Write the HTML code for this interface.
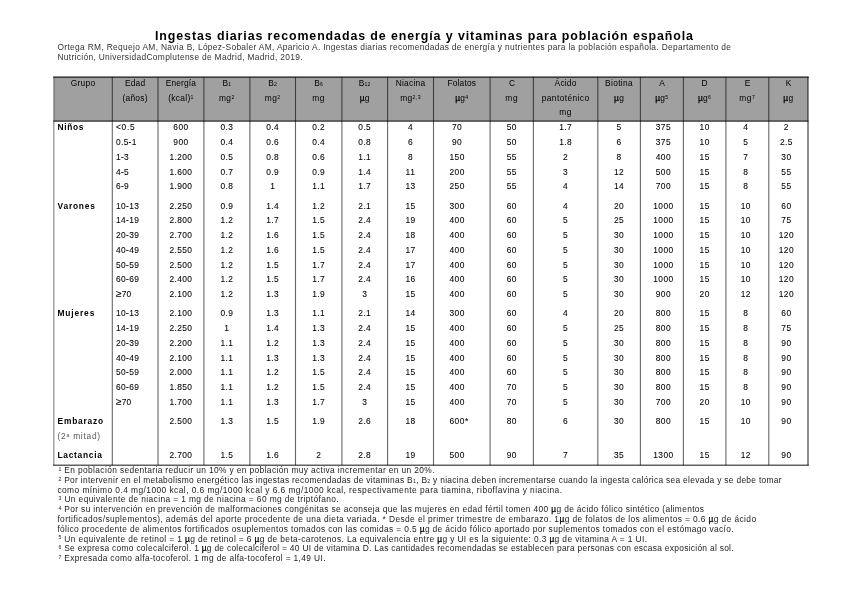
<!DOCTYPE html>
<html><head><meta charset="utf-8"><style>
html,body{margin:0;padding:0;background:#fff;}
body{width:848px;height:599px;overflow:hidden;position:relative;font-family:"Liberation Sans", sans-serif;}
.t{position:absolute;white-space:nowrap;line-height:12px;height:12px;}
.sk{-webkit-text-stroke:0.08px currentColor;}
#wrap{position:absolute;left:0;top:0;width:848px;height:599px;will-change:transform;}
sup{font-size:62%;vertical-align:0;position:relative;top:-0.45em;line-height:0;}
sub{font-size:62%;vertical-align:0;position:relative;top:0.05em;line-height:0;}
.ln{position:absolute;background:#555;}
.hd{position:absolute;background:#a0a0a0;}
.mu{color:#000;-webkit-text-stroke:0.25px #000;}
.ge{font-size:120%;line-height:0;}
</style></head>
<body>
<div class="hd" style="left:53.8px;top:77.1px;width:754.2px;height:44.10000000000001px"></div>
<svg width="848" height="599" style="position:absolute;left:0;top:0"><line x1="53.099999999999994" y1="77.1" x2="808.8" y2="77.1" stroke="#000" stroke-opacity="0.62" stroke-width="1.6"/><line x1="53.3" y1="121.2" x2="808.5" y2="121.2" stroke="#000" stroke-opacity="0.8" stroke-width="1.3"/><line x1="53.099999999999994" y1="465.2" x2="808.8" y2="465.2" stroke="#000" stroke-opacity="0.62" stroke-width="1.6"/><line x1="53.8" y1="77.1" x2="53.8" y2="465.2" stroke="#000" stroke-opacity="0.42" stroke-width="1.3"/><line x1="112.3" y1="77.1" x2="112.3" y2="465.2" stroke="#000" stroke-opacity="0.6" stroke-width="1.1"/><line x1="158.0" y1="77.1" x2="158.0" y2="465.2" stroke="#000" stroke-opacity="0.6" stroke-width="1.1"/><line x1="203.9" y1="77.1" x2="203.9" y2="465.2" stroke="#000" stroke-opacity="0.6" stroke-width="1.1"/><line x1="249.9" y1="77.1" x2="249.9" y2="465.2" stroke="#000" stroke-opacity="0.6" stroke-width="1.1"/><line x1="295.5" y1="77.1" x2="295.5" y2="465.2" stroke="#000" stroke-opacity="0.6" stroke-width="1.1"/><line x1="341.9" y1="77.1" x2="341.9" y2="465.2" stroke="#000" stroke-opacity="0.6" stroke-width="1.1"/><line x1="387.6" y1="77.1" x2="387.6" y2="465.2" stroke="#000" stroke-opacity="0.6" stroke-width="1.1"/><line x1="433.5" y1="77.1" x2="433.5" y2="465.2" stroke="#000" stroke-opacity="0.6" stroke-width="1.1"/><line x1="490.1" y1="77.1" x2="490.1" y2="465.2" stroke="#000" stroke-opacity="0.6" stroke-width="1.1"/><line x1="533.4" y1="77.1" x2="533.4" y2="465.2" stroke="#000" stroke-opacity="0.6" stroke-width="1.1"/><line x1="597.8" y1="77.1" x2="597.8" y2="465.2" stroke="#000" stroke-opacity="0.6" stroke-width="1.1"/><line x1="640.4" y1="77.1" x2="640.4" y2="465.2" stroke="#000" stroke-opacity="0.6" stroke-width="1.1"/><line x1="683.4" y1="77.1" x2="683.4" y2="465.2" stroke="#000" stroke-opacity="0.6" stroke-width="1.1"/><line x1="725.9" y1="77.1" x2="725.9" y2="465.2" stroke="#000" stroke-opacity="0.6" stroke-width="1.1"/><line x1="768.8" y1="77.1" x2="768.8" y2="465.2" stroke="#000" stroke-opacity="0.6" stroke-width="1.1"/><line x1="808.0" y1="77.1" x2="808.0" y2="465.2" stroke="#000" stroke-opacity="0.6" stroke-width="1.5"/></svg>
<div id="wrap">
<div class="t " id="i0" style="left:155.00px;top:30.40px;font-size:12.4px;color:#000;font-weight:bold;letter-spacing:0.911px;">Ingestas diarias recomendadas de energía y vitaminas para población española</div>
<div class="t " id="i1" style="left:57.50px;top:41.29px;font-size:8.4px;color:#333;letter-spacing:0.329px;">Ortega RM, Requejo AM, Navia B, López-Sobaler AM, Aparicio A. Ingestas diarias recomendadas de energía y nutrientes para la población española. Departamento de</div>
<div class="t " id="i2" style="left:57.50px;top:51.09px;font-size:8.4px;color:#333;letter-spacing:0.321px;">Nutrición, UniversidadComplutense de Madrid, Madrid, 2019.</div>
<div class="t " id="i3" style="left:53.80px;top:76.59px;font-size:8.4px;color:#000;width:58.50px;text-align:center;letter-spacing:0.250px;">Grupo</div>
<div class="t " id="i4" style="left:112.30px;top:76.59px;font-size:8.4px;color:#000;width:45.70px;text-align:center;letter-spacing:0.141px;">Edad</div>
<div class="t " id="i5" style="left:112.30px;top:92.19px;font-size:8.4px;color:#000;width:45.70px;text-align:center;letter-spacing:0.255px;">(años)</div>
<div class="t " id="i6" style="left:158.00px;top:76.59px;font-size:8.4px;color:#000;width:45.90px;text-align:center;letter-spacing:0.152px;">Energía</div>
<div class="t " id="i7" style="left:158.00px;top:92.19px;font-size:8.4px;color:#000;width:45.90px;text-align:center;letter-spacing:0.312px;">(kcal)<sup>1</sup></div>
<div class="t " id="i8" style="left:203.90px;top:76.59px;font-size:8.4px;color:#000;width:46.00px;text-align:center;letter-spacing:0.086px;">B<sub>1</sub></div>
<div class="t " id="i9" style="left:203.90px;top:92.19px;font-size:8.4px;color:#000;width:46.00px;text-align:center;letter-spacing:0.500px;">mg<sup>2</sup></div>
<div class="t " id="i10" style="left:249.90px;top:76.59px;font-size:8.4px;color:#000;width:45.60px;text-align:center;letter-spacing:0.086px;">B<sub>2</sub></div>
<div class="t " id="i11" style="left:249.90px;top:92.19px;font-size:8.4px;color:#000;width:45.60px;text-align:center;letter-spacing:0.500px;">mg<sup>2</sup></div>
<div class="t " id="i12" style="left:295.50px;top:76.59px;font-size:8.4px;color:#000;width:46.40px;text-align:center;letter-spacing:0.086px;">B<sub>6</sub></div>
<div class="t " id="i13" style="left:295.50px;top:92.19px;font-size:8.4px;color:#000;width:46.40px;text-align:center;letter-spacing:0.617px;">mg</div>
<div class="t " id="i14" style="left:341.90px;top:76.59px;font-size:8.4px;color:#000;width:45.70px;text-align:center;letter-spacing:0.146px;">B<sub>12</sub></div>
<div class="t " id="i15" style="left:341.90px;top:92.19px;font-size:8.4px;color:#000;width:45.70px;text-align:center;letter-spacing:0.336px;"><span class="mu">µ</span>g</div>
<div class="t " id="i16" style="left:387.60px;top:76.59px;font-size:8.4px;color:#000;width:45.90px;text-align:center;letter-spacing:0.252px;">Niacina</div>
<div class="t " id="i17" style="left:387.60px;top:92.19px;font-size:8.4px;color:#000;width:45.90px;text-align:center;letter-spacing:0.381px;">mg<sup>2,3</sup></div>
<div class="t " id="i18" style="left:433.50px;top:76.59px;font-size:8.4px;color:#000;width:56.60px;text-align:center;letter-spacing:0.154px;">Folatos</div>
<div class="t " id="i19" style="left:433.50px;top:92.19px;font-size:8.4px;color:#000;width:56.60px;text-align:center;letter-spacing:0.312px;"><span class="mu">µ</span>g<sup>4</sup></div>
<div class="t " id="i20" style="left:490.10px;top:76.59px;font-size:8.4px;color:#000;width:43.30px;text-align:center;letter-spacing:-0.469px;">C</div>
<div class="t " id="i21" style="left:490.10px;top:92.19px;font-size:8.4px;color:#000;width:43.30px;text-align:center;letter-spacing:0.617px;">mg</div>
<div class="t " id="i22" style="left:533.40px;top:76.59px;font-size:8.4px;color:#000;width:64.40px;text-align:center;letter-spacing:0.197px;">Ácido</div>
<div class="t " id="i23" style="left:533.40px;top:92.19px;font-size:8.4px;color:#000;width:64.40px;text-align:center;letter-spacing:0.402px;">pantoténico</div>
<div class="t " id="i24" style="left:533.40px;top:106.09px;font-size:8.4px;color:#000;width:64.40px;text-align:center;letter-spacing:0.617px;">mg</div>
<div class="t " id="i25" style="left:597.80px;top:76.59px;font-size:8.4px;color:#000;width:42.60px;text-align:center;letter-spacing:0.333px;">Biotina</div>
<div class="t " id="i26" style="left:597.80px;top:92.19px;font-size:8.4px;color:#000;width:42.60px;text-align:center;letter-spacing:0.336px;"><span class="mu">µ</span>g</div>
<div class="t " id="i27" style="left:640.40px;top:76.59px;font-size:8.4px;color:#000;width:43.00px;text-align:center;letter-spacing:-0.109px;">A</div>
<div class="t " id="i28" style="left:640.40px;top:92.19px;font-size:8.4px;color:#000;width:43.00px;text-align:center;letter-spacing:0.312px;"><span class="mu">µ</span>g<sup>5</sup></div>
<div class="t " id="i29" style="left:683.40px;top:76.59px;font-size:8.4px;color:#000;width:42.50px;text-align:center;letter-spacing:0.109px;">D</div>
<div class="t " id="i30" style="left:683.40px;top:92.19px;font-size:8.4px;color:#000;width:42.50px;text-align:center;letter-spacing:0.312px;"><span class="mu">µ</span>g<sup>6</sup></div>
<div class="t " id="i31" style="left:725.90px;top:76.59px;font-size:8.4px;color:#000;width:42.90px;text-align:center;letter-spacing:-0.531px;">E</div>
<div class="t " id="i32" style="left:725.90px;top:92.19px;font-size:8.4px;color:#000;width:42.90px;text-align:center;letter-spacing:0.500px;">mg<sup>7</sup></div>
<div class="t " id="i33" style="left:768.80px;top:76.59px;font-size:8.4px;color:#000;width:39.20px;text-align:center;letter-spacing:-0.344px;">K</div>
<div class="t " id="i34" style="left:768.80px;top:92.19px;font-size:8.4px;color:#000;width:39.20px;text-align:center;letter-spacing:0.336px;"><span class="mu">µ</span>g</div>
<div class="t " id="i35" style="left:57.50px;top:121.39px;font-size:8.4px;color:#000;font-weight:bold;letter-spacing:0.666px;">Niños</div>
<div class="t sk" id="i36" style="left:116.00px;top:121.39px;font-size:8.4px;color:#000;letter-spacing:0.723px;">&lt;0.5</div>
<div class="t sk" id="i37" style="left:158.00px;top:121.39px;font-size:8.4px;color:#000;width:45.90px;text-align:center;letter-spacing:0.432px;">600</div>
<div class="t sk" id="i38" style="left:203.90px;top:121.39px;font-size:8.4px;color:#000;width:46.00px;text-align:center;letter-spacing:0.359px;">0.3</div>
<div class="t sk" id="i39" style="left:249.90px;top:121.39px;font-size:8.4px;color:#000;width:45.60px;text-align:center;letter-spacing:0.359px;">0.4</div>
<div class="t sk" id="i40" style="left:295.50px;top:121.39px;font-size:8.4px;color:#000;width:46.40px;text-align:center;letter-spacing:0.359px;">0.2</div>
<div class="t sk" id="i41" style="left:341.90px;top:121.39px;font-size:8.4px;color:#000;width:45.70px;text-align:center;letter-spacing:0.359px;">0.5</div>
<div class="t sk" id="i42" style="left:387.60px;top:121.39px;font-size:8.4px;color:#000;width:45.90px;text-align:center;letter-spacing:0.422px;">4</div>
<div class="t sk" id="i43" style="left:428.80px;top:121.39px;font-size:8.4px;color:#000;width:56.60px;text-align:center;letter-spacing:0.430px;">70</div>
<div class="t sk" id="i44" style="left:490.10px;top:121.39px;font-size:8.4px;color:#000;width:43.30px;text-align:center;letter-spacing:0.430px;">50</div>
<div class="t sk" id="i45" style="left:533.40px;top:121.39px;font-size:8.4px;color:#000;width:64.40px;text-align:center;letter-spacing:0.359px;">1.7</div>
<div class="t sk" id="i46" style="left:597.80px;top:121.39px;font-size:8.4px;color:#000;width:42.60px;text-align:center;letter-spacing:0.422px;">5</div>
<div class="t sk" id="i47" style="left:641.90px;top:121.39px;font-size:8.4px;color:#000;width:43.00px;text-align:center;letter-spacing:0.432px;">375</div>
<div class="t sk" id="i48" style="left:683.40px;top:121.39px;font-size:8.4px;color:#000;width:42.50px;text-align:center;letter-spacing:0.430px;">10</div>
<div class="t sk" id="i49" style="left:724.40px;top:121.39px;font-size:8.4px;color:#000;width:42.90px;text-align:center;letter-spacing:0.422px;">4</div>
<div class="t sk" id="i50" style="left:766.80px;top:121.39px;font-size:8.4px;color:#000;width:39.20px;text-align:center;letter-spacing:0.422px;">2</div>
<div class="t sk" id="i51" style="left:116.00px;top:136.12px;font-size:8.4px;color:#000;letter-spacing:0.322px;">0.5-1</div>
<div class="t sk" id="i52" style="left:158.00px;top:136.12px;font-size:8.4px;color:#000;width:45.90px;text-align:center;letter-spacing:0.432px;">900</div>
<div class="t sk" id="i53" style="left:203.90px;top:136.12px;font-size:8.4px;color:#000;width:46.00px;text-align:center;letter-spacing:0.359px;">0.4</div>
<div class="t sk" id="i54" style="left:249.90px;top:136.12px;font-size:8.4px;color:#000;width:45.60px;text-align:center;letter-spacing:0.359px;">0.6</div>
<div class="t sk" id="i55" style="left:295.50px;top:136.12px;font-size:8.4px;color:#000;width:46.40px;text-align:center;letter-spacing:0.359px;">0.4</div>
<div class="t sk" id="i56" style="left:341.90px;top:136.12px;font-size:8.4px;color:#000;width:45.70px;text-align:center;letter-spacing:0.359px;">0.8</div>
<div class="t sk" id="i57" style="left:387.60px;top:136.12px;font-size:8.4px;color:#000;width:45.90px;text-align:center;letter-spacing:0.422px;">6</div>
<div class="t sk" id="i58" style="left:428.80px;top:136.12px;font-size:8.4px;color:#000;width:56.60px;text-align:center;letter-spacing:0.430px;">90</div>
<div class="t sk" id="i59" style="left:490.10px;top:136.12px;font-size:8.4px;color:#000;width:43.30px;text-align:center;letter-spacing:0.430px;">50</div>
<div class="t sk" id="i60" style="left:533.40px;top:136.12px;font-size:8.4px;color:#000;width:64.40px;text-align:center;letter-spacing:0.359px;">1.8</div>
<div class="t sk" id="i61" style="left:597.80px;top:136.12px;font-size:8.4px;color:#000;width:42.60px;text-align:center;letter-spacing:0.422px;">6</div>
<div class="t sk" id="i62" style="left:641.90px;top:136.12px;font-size:8.4px;color:#000;width:43.00px;text-align:center;letter-spacing:0.432px;">375</div>
<div class="t sk" id="i63" style="left:683.40px;top:136.12px;font-size:8.4px;color:#000;width:42.50px;text-align:center;letter-spacing:0.430px;">10</div>
<div class="t sk" id="i64" style="left:724.40px;top:136.12px;font-size:8.4px;color:#000;width:42.90px;text-align:center;letter-spacing:0.422px;">5</div>
<div class="t sk" id="i65" style="left:766.80px;top:136.12px;font-size:8.4px;color:#000;width:39.20px;text-align:center;letter-spacing:0.359px;">2.5</div>
<div class="t sk" id="i66" style="left:116.00px;top:150.85px;font-size:8.4px;color:#000;letter-spacing:0.323px;">1-3</div>
<div class="t sk" id="i67" style="left:158.00px;top:150.85px;font-size:8.4px;color:#000;width:45.90px;text-align:center;letter-spacing:0.388px;">1.200</div>
<div class="t sk" id="i68" style="left:203.90px;top:150.85px;font-size:8.4px;color:#000;width:46.00px;text-align:center;letter-spacing:0.359px;">0.5</div>
<div class="t sk" id="i69" style="left:249.90px;top:150.85px;font-size:8.4px;color:#000;width:45.60px;text-align:center;letter-spacing:0.359px;">0.8</div>
<div class="t sk" id="i70" style="left:295.50px;top:150.85px;font-size:8.4px;color:#000;width:46.40px;text-align:center;letter-spacing:0.359px;">0.6</div>
<div class="t sk" id="i71" style="left:341.90px;top:150.85px;font-size:8.4px;color:#000;width:45.70px;text-align:center;letter-spacing:0.359px;">1.1</div>
<div class="t sk" id="i72" style="left:387.60px;top:150.85px;font-size:8.4px;color:#000;width:45.90px;text-align:center;letter-spacing:0.422px;">8</div>
<div class="t sk" id="i73" style="left:428.80px;top:150.85px;font-size:8.4px;color:#000;width:56.60px;text-align:center;letter-spacing:0.432px;">150</div>
<div class="t sk" id="i74" style="left:490.10px;top:150.85px;font-size:8.4px;color:#000;width:43.30px;text-align:center;letter-spacing:0.430px;">55</div>
<div class="t sk" id="i75" style="left:533.40px;top:150.85px;font-size:8.4px;color:#000;width:64.40px;text-align:center;letter-spacing:0.422px;">2</div>
<div class="t sk" id="i76" style="left:597.80px;top:150.85px;font-size:8.4px;color:#000;width:42.60px;text-align:center;letter-spacing:0.422px;">8</div>
<div class="t sk" id="i77" style="left:641.90px;top:150.85px;font-size:8.4px;color:#000;width:43.00px;text-align:center;letter-spacing:0.432px;">400</div>
<div class="t sk" id="i78" style="left:683.40px;top:150.85px;font-size:8.4px;color:#000;width:42.50px;text-align:center;letter-spacing:0.430px;">15</div>
<div class="t sk" id="i79" style="left:724.40px;top:150.85px;font-size:8.4px;color:#000;width:42.90px;text-align:center;letter-spacing:0.422px;">7</div>
<div class="t sk" id="i80" style="left:766.80px;top:150.85px;font-size:8.4px;color:#000;width:39.20px;text-align:center;letter-spacing:0.430px;">30</div>
<div class="t sk" id="i81" style="left:116.00px;top:165.58px;font-size:8.4px;color:#000;letter-spacing:0.323px;">4-5</div>
<div class="t sk" id="i82" style="left:158.00px;top:165.58px;font-size:8.4px;color:#000;width:45.90px;text-align:center;letter-spacing:0.388px;">1.600</div>
<div class="t sk" id="i83" style="left:203.90px;top:165.58px;font-size:8.4px;color:#000;width:46.00px;text-align:center;letter-spacing:0.359px;">0.7</div>
<div class="t sk" id="i84" style="left:249.90px;top:165.58px;font-size:8.4px;color:#000;width:45.60px;text-align:center;letter-spacing:0.359px;">0.9</div>
<div class="t sk" id="i85" style="left:295.50px;top:165.58px;font-size:8.4px;color:#000;width:46.40px;text-align:center;letter-spacing:0.359px;">0.9</div>
<div class="t sk" id="i86" style="left:341.90px;top:165.58px;font-size:8.4px;color:#000;width:45.70px;text-align:center;letter-spacing:0.359px;">1.4</div>
<div class="t sk" id="i87" style="left:387.60px;top:165.58px;font-size:8.4px;color:#000;width:45.90px;text-align:center;letter-spacing:0.742px;">11</div>
<div class="t sk" id="i88" style="left:428.80px;top:165.58px;font-size:8.4px;color:#000;width:56.60px;text-align:center;letter-spacing:0.432px;">200</div>
<div class="t sk" id="i89" style="left:490.10px;top:165.58px;font-size:8.4px;color:#000;width:43.30px;text-align:center;letter-spacing:0.430px;">55</div>
<div class="t sk" id="i90" style="left:533.40px;top:165.58px;font-size:8.4px;color:#000;width:64.40px;text-align:center;letter-spacing:0.422px;">3</div>
<div class="t sk" id="i91" style="left:597.80px;top:165.58px;font-size:8.4px;color:#000;width:42.60px;text-align:center;letter-spacing:0.430px;">12</div>
<div class="t sk" id="i92" style="left:641.90px;top:165.58px;font-size:8.4px;color:#000;width:43.00px;text-align:center;letter-spacing:0.432px;">500</div>
<div class="t sk" id="i93" style="left:683.40px;top:165.58px;font-size:8.4px;color:#000;width:42.50px;text-align:center;letter-spacing:0.430px;">15</div>
<div class="t sk" id="i94" style="left:724.40px;top:165.58px;font-size:8.4px;color:#000;width:42.90px;text-align:center;letter-spacing:0.422px;">8</div>
<div class="t sk" id="i95" style="left:766.80px;top:165.58px;font-size:8.4px;color:#000;width:39.20px;text-align:center;letter-spacing:0.430px;">55</div>
<div class="t sk" id="i96" style="left:116.00px;top:180.31px;font-size:8.4px;color:#000;letter-spacing:0.323px;">6-9</div>
<div class="t sk" id="i97" style="left:158.00px;top:180.31px;font-size:8.4px;color:#000;width:45.90px;text-align:center;letter-spacing:0.388px;">1.900</div>
<div class="t sk" id="i98" style="left:203.90px;top:180.31px;font-size:8.4px;color:#000;width:46.00px;text-align:center;letter-spacing:0.359px;">0.8</div>
<div class="t sk" id="i99" style="left:249.90px;top:180.31px;font-size:8.4px;color:#000;width:45.60px;text-align:center;letter-spacing:0.422px;">1</div>
<div class="t sk" id="i100" style="left:295.50px;top:180.31px;font-size:8.4px;color:#000;width:46.40px;text-align:center;letter-spacing:0.359px;">1.1</div>
<div class="t sk" id="i101" style="left:341.90px;top:180.31px;font-size:8.4px;color:#000;width:45.70px;text-align:center;letter-spacing:0.359px;">1.7</div>
<div class="t sk" id="i102" style="left:387.60px;top:180.31px;font-size:8.4px;color:#000;width:45.90px;text-align:center;letter-spacing:0.430px;">13</div>
<div class="t sk" id="i103" style="left:428.80px;top:180.31px;font-size:8.4px;color:#000;width:56.60px;text-align:center;letter-spacing:0.432px;">250</div>
<div class="t sk" id="i104" style="left:490.10px;top:180.31px;font-size:8.4px;color:#000;width:43.30px;text-align:center;letter-spacing:0.430px;">55</div>
<div class="t sk" id="i105" style="left:533.40px;top:180.31px;font-size:8.4px;color:#000;width:64.40px;text-align:center;letter-spacing:0.422px;">4</div>
<div class="t sk" id="i106" style="left:597.80px;top:180.31px;font-size:8.4px;color:#000;width:42.60px;text-align:center;letter-spacing:0.430px;">14</div>
<div class="t sk" id="i107" style="left:641.90px;top:180.31px;font-size:8.4px;color:#000;width:43.00px;text-align:center;letter-spacing:0.432px;">700</div>
<div class="t sk" id="i108" style="left:683.40px;top:180.31px;font-size:8.4px;color:#000;width:42.50px;text-align:center;letter-spacing:0.430px;">15</div>
<div class="t sk" id="i109" style="left:724.40px;top:180.31px;font-size:8.4px;color:#000;width:42.90px;text-align:center;letter-spacing:0.422px;">8</div>
<div class="t sk" id="i110" style="left:766.80px;top:180.31px;font-size:8.4px;color:#000;width:39.20px;text-align:center;letter-spacing:0.430px;">55</div>
<div class="t " id="i111" style="left:57.50px;top:199.69px;font-size:8.4px;color:#000;font-weight:bold;letter-spacing:0.799px;">Varones</div>
<div class="t sk" id="i112" style="left:116.00px;top:199.69px;font-size:8.4px;color:#000;letter-spacing:0.366px;">10-13</div>
<div class="t sk" id="i113" style="left:158.00px;top:199.69px;font-size:8.4px;color:#000;width:45.90px;text-align:center;letter-spacing:0.388px;">2.250</div>
<div class="t sk" id="i114" style="left:203.90px;top:199.69px;font-size:8.4px;color:#000;width:46.00px;text-align:center;letter-spacing:0.359px;">0.9</div>
<div class="t sk" id="i115" style="left:249.90px;top:199.69px;font-size:8.4px;color:#000;width:45.60px;text-align:center;letter-spacing:0.359px;">1.4</div>
<div class="t sk" id="i116" style="left:295.50px;top:199.69px;font-size:8.4px;color:#000;width:46.40px;text-align:center;letter-spacing:0.359px;">1.2</div>
<div class="t sk" id="i117" style="left:341.90px;top:199.69px;font-size:8.4px;color:#000;width:45.70px;text-align:center;letter-spacing:0.359px;">2.1</div>
<div class="t sk" id="i118" style="left:387.60px;top:199.69px;font-size:8.4px;color:#000;width:45.90px;text-align:center;letter-spacing:0.430px;">15</div>
<div class="t sk" id="i119" style="left:428.80px;top:199.69px;font-size:8.4px;color:#000;width:56.60px;text-align:center;letter-spacing:0.432px;">300</div>
<div class="t sk" id="i120" style="left:490.10px;top:199.69px;font-size:8.4px;color:#000;width:43.30px;text-align:center;letter-spacing:0.430px;">60</div>
<div class="t sk" id="i121" style="left:533.40px;top:199.69px;font-size:8.4px;color:#000;width:64.40px;text-align:center;letter-spacing:0.422px;">4</div>
<div class="t sk" id="i122" style="left:597.80px;top:199.69px;font-size:8.4px;color:#000;width:42.60px;text-align:center;letter-spacing:0.430px;">20</div>
<div class="t sk" id="i123" style="left:641.90px;top:199.69px;font-size:8.4px;color:#000;width:43.00px;text-align:center;letter-spacing:0.430px;">1000</div>
<div class="t sk" id="i124" style="left:683.40px;top:199.69px;font-size:8.4px;color:#000;width:42.50px;text-align:center;letter-spacing:0.430px;">15</div>
<div class="t sk" id="i125" style="left:724.40px;top:199.69px;font-size:8.4px;color:#000;width:42.90px;text-align:center;letter-spacing:0.430px;">10</div>
<div class="t sk" id="i126" style="left:766.80px;top:199.69px;font-size:8.4px;color:#000;width:39.20px;text-align:center;letter-spacing:0.430px;">60</div>
<div class="t sk" id="i127" style="left:116.00px;top:214.42px;font-size:8.4px;color:#000;letter-spacing:0.366px;">14-19</div>
<div class="t sk" id="i128" style="left:158.00px;top:214.42px;font-size:8.4px;color:#000;width:45.90px;text-align:center;letter-spacing:0.388px;">2.800</div>
<div class="t sk" id="i129" style="left:203.90px;top:214.42px;font-size:8.4px;color:#000;width:46.00px;text-align:center;letter-spacing:0.359px;">1.2</div>
<div class="t sk" id="i130" style="left:249.90px;top:214.42px;font-size:8.4px;color:#000;width:45.60px;text-align:center;letter-spacing:0.359px;">1.7</div>
<div class="t sk" id="i131" style="left:295.50px;top:214.42px;font-size:8.4px;color:#000;width:46.40px;text-align:center;letter-spacing:0.359px;">1.5</div>
<div class="t sk" id="i132" style="left:341.90px;top:214.42px;font-size:8.4px;color:#000;width:45.70px;text-align:center;letter-spacing:0.359px;">2.4</div>
<div class="t sk" id="i133" style="left:387.60px;top:214.42px;font-size:8.4px;color:#000;width:45.90px;text-align:center;letter-spacing:0.430px;">19</div>
<div class="t sk" id="i134" style="left:428.80px;top:214.42px;font-size:8.4px;color:#000;width:56.60px;text-align:center;letter-spacing:0.432px;">400</div>
<div class="t sk" id="i135" style="left:490.10px;top:214.42px;font-size:8.4px;color:#000;width:43.30px;text-align:center;letter-spacing:0.430px;">60</div>
<div class="t sk" id="i136" style="left:533.40px;top:214.42px;font-size:8.4px;color:#000;width:64.40px;text-align:center;letter-spacing:0.422px;">5</div>
<div class="t sk" id="i137" style="left:597.80px;top:214.42px;font-size:8.4px;color:#000;width:42.60px;text-align:center;letter-spacing:0.430px;">25</div>
<div class="t sk" id="i138" style="left:641.90px;top:214.42px;font-size:8.4px;color:#000;width:43.00px;text-align:center;letter-spacing:0.430px;">1000</div>
<div class="t sk" id="i139" style="left:683.40px;top:214.42px;font-size:8.4px;color:#000;width:42.50px;text-align:center;letter-spacing:0.430px;">15</div>
<div class="t sk" id="i140" style="left:724.40px;top:214.42px;font-size:8.4px;color:#000;width:42.90px;text-align:center;letter-spacing:0.430px;">10</div>
<div class="t sk" id="i141" style="left:766.80px;top:214.42px;font-size:8.4px;color:#000;width:39.20px;text-align:center;letter-spacing:0.430px;">75</div>
<div class="t sk" id="i142" style="left:116.00px;top:229.15px;font-size:8.4px;color:#000;letter-spacing:0.366px;">20-39</div>
<div class="t sk" id="i143" style="left:158.00px;top:229.15px;font-size:8.4px;color:#000;width:45.90px;text-align:center;letter-spacing:0.388px;">2.700</div>
<div class="t sk" id="i144" style="left:203.90px;top:229.15px;font-size:8.4px;color:#000;width:46.00px;text-align:center;letter-spacing:0.359px;">1.2</div>
<div class="t sk" id="i145" style="left:249.90px;top:229.15px;font-size:8.4px;color:#000;width:45.60px;text-align:center;letter-spacing:0.359px;">1.6</div>
<div class="t sk" id="i146" style="left:295.50px;top:229.15px;font-size:8.4px;color:#000;width:46.40px;text-align:center;letter-spacing:0.359px;">1.5</div>
<div class="t sk" id="i147" style="left:341.90px;top:229.15px;font-size:8.4px;color:#000;width:45.70px;text-align:center;letter-spacing:0.359px;">2.4</div>
<div class="t sk" id="i148" style="left:387.60px;top:229.15px;font-size:8.4px;color:#000;width:45.90px;text-align:center;letter-spacing:0.430px;">18</div>
<div class="t sk" id="i149" style="left:428.80px;top:229.15px;font-size:8.4px;color:#000;width:56.60px;text-align:center;letter-spacing:0.432px;">400</div>
<div class="t sk" id="i150" style="left:490.10px;top:229.15px;font-size:8.4px;color:#000;width:43.30px;text-align:center;letter-spacing:0.430px;">60</div>
<div class="t sk" id="i151" style="left:533.40px;top:229.15px;font-size:8.4px;color:#000;width:64.40px;text-align:center;letter-spacing:0.422px;">5</div>
<div class="t sk" id="i152" style="left:597.80px;top:229.15px;font-size:8.4px;color:#000;width:42.60px;text-align:center;letter-spacing:0.430px;">30</div>
<div class="t sk" id="i153" style="left:641.90px;top:229.15px;font-size:8.4px;color:#000;width:43.00px;text-align:center;letter-spacing:0.430px;">1000</div>
<div class="t sk" id="i154" style="left:683.40px;top:229.15px;font-size:8.4px;color:#000;width:42.50px;text-align:center;letter-spacing:0.430px;">15</div>
<div class="t sk" id="i155" style="left:724.40px;top:229.15px;font-size:8.4px;color:#000;width:42.90px;text-align:center;letter-spacing:0.430px;">10</div>
<div class="t sk" id="i156" style="left:766.80px;top:229.15px;font-size:8.4px;color:#000;width:39.20px;text-align:center;letter-spacing:0.432px;">120</div>
<div class="t sk" id="i157" style="left:116.00px;top:243.88px;font-size:8.4px;color:#000;letter-spacing:0.366px;">40-49</div>
<div class="t sk" id="i158" style="left:158.00px;top:243.88px;font-size:8.4px;color:#000;width:45.90px;text-align:center;letter-spacing:0.388px;">2.550</div>
<div class="t sk" id="i159" style="left:203.90px;top:243.88px;font-size:8.4px;color:#000;width:46.00px;text-align:center;letter-spacing:0.359px;">1.2</div>
<div class="t sk" id="i160" style="left:249.90px;top:243.88px;font-size:8.4px;color:#000;width:45.60px;text-align:center;letter-spacing:0.359px;">1.6</div>
<div class="t sk" id="i161" style="left:295.50px;top:243.88px;font-size:8.4px;color:#000;width:46.40px;text-align:center;letter-spacing:0.359px;">1.5</div>
<div class="t sk" id="i162" style="left:341.90px;top:243.88px;font-size:8.4px;color:#000;width:45.70px;text-align:center;letter-spacing:0.359px;">2.4</div>
<div class="t sk" id="i163" style="left:387.60px;top:243.88px;font-size:8.4px;color:#000;width:45.90px;text-align:center;letter-spacing:0.430px;">17</div>
<div class="t sk" id="i164" style="left:428.80px;top:243.88px;font-size:8.4px;color:#000;width:56.60px;text-align:center;letter-spacing:0.432px;">400</div>
<div class="t sk" id="i165" style="left:490.10px;top:243.88px;font-size:8.4px;color:#000;width:43.30px;text-align:center;letter-spacing:0.430px;">60</div>
<div class="t sk" id="i166" style="left:533.40px;top:243.88px;font-size:8.4px;color:#000;width:64.40px;text-align:center;letter-spacing:0.422px;">5</div>
<div class="t sk" id="i167" style="left:597.80px;top:243.88px;font-size:8.4px;color:#000;width:42.60px;text-align:center;letter-spacing:0.430px;">30</div>
<div class="t sk" id="i168" style="left:641.90px;top:243.88px;font-size:8.4px;color:#000;width:43.00px;text-align:center;letter-spacing:0.430px;">1000</div>
<div class="t sk" id="i169" style="left:683.40px;top:243.88px;font-size:8.4px;color:#000;width:42.50px;text-align:center;letter-spacing:0.430px;">15</div>
<div class="t sk" id="i170" style="left:724.40px;top:243.88px;font-size:8.4px;color:#000;width:42.90px;text-align:center;letter-spacing:0.430px;">10</div>
<div class="t sk" id="i171" style="left:766.80px;top:243.88px;font-size:8.4px;color:#000;width:39.20px;text-align:center;letter-spacing:0.432px;">120</div>
<div class="t sk" id="i172" style="left:116.00px;top:258.61px;font-size:8.4px;color:#000;letter-spacing:0.366px;">50-59</div>
<div class="t sk" id="i173" style="left:158.00px;top:258.61px;font-size:8.4px;color:#000;width:45.90px;text-align:center;letter-spacing:0.388px;">2.500</div>
<div class="t sk" id="i174" style="left:203.90px;top:258.61px;font-size:8.4px;color:#000;width:46.00px;text-align:center;letter-spacing:0.359px;">1.2</div>
<div class="t sk" id="i175" style="left:249.90px;top:258.61px;font-size:8.4px;color:#000;width:45.60px;text-align:center;letter-spacing:0.359px;">1.5</div>
<div class="t sk" id="i176" style="left:295.50px;top:258.61px;font-size:8.4px;color:#000;width:46.40px;text-align:center;letter-spacing:0.359px;">1.7</div>
<div class="t sk" id="i177" style="left:341.90px;top:258.61px;font-size:8.4px;color:#000;width:45.70px;text-align:center;letter-spacing:0.359px;">2.4</div>
<div class="t sk" id="i178" style="left:387.60px;top:258.61px;font-size:8.4px;color:#000;width:45.90px;text-align:center;letter-spacing:0.430px;">17</div>
<div class="t sk" id="i179" style="left:428.80px;top:258.61px;font-size:8.4px;color:#000;width:56.60px;text-align:center;letter-spacing:0.432px;">400</div>
<div class="t sk" id="i180" style="left:490.10px;top:258.61px;font-size:8.4px;color:#000;width:43.30px;text-align:center;letter-spacing:0.430px;">60</div>
<div class="t sk" id="i181" style="left:533.40px;top:258.61px;font-size:8.4px;color:#000;width:64.40px;text-align:center;letter-spacing:0.422px;">5</div>
<div class="t sk" id="i182" style="left:597.80px;top:258.61px;font-size:8.4px;color:#000;width:42.60px;text-align:center;letter-spacing:0.430px;">30</div>
<div class="t sk" id="i183" style="left:641.90px;top:258.61px;font-size:8.4px;color:#000;width:43.00px;text-align:center;letter-spacing:0.430px;">1000</div>
<div class="t sk" id="i184" style="left:683.40px;top:258.61px;font-size:8.4px;color:#000;width:42.50px;text-align:center;letter-spacing:0.430px;">15</div>
<div class="t sk" id="i185" style="left:724.40px;top:258.61px;font-size:8.4px;color:#000;width:42.90px;text-align:center;letter-spacing:0.430px;">10</div>
<div class="t sk" id="i186" style="left:766.80px;top:258.61px;font-size:8.4px;color:#000;width:39.20px;text-align:center;letter-spacing:0.432px;">120</div>
<div class="t sk" id="i187" style="left:116.00px;top:273.34px;font-size:8.4px;color:#000;letter-spacing:0.366px;">60-69</div>
<div class="t sk" id="i188" style="left:158.00px;top:273.34px;font-size:8.4px;color:#000;width:45.90px;text-align:center;letter-spacing:0.388px;">2.400</div>
<div class="t sk" id="i189" style="left:203.90px;top:273.34px;font-size:8.4px;color:#000;width:46.00px;text-align:center;letter-spacing:0.359px;">1.2</div>
<div class="t sk" id="i190" style="left:249.90px;top:273.34px;font-size:8.4px;color:#000;width:45.60px;text-align:center;letter-spacing:0.359px;">1.5</div>
<div class="t sk" id="i191" style="left:295.50px;top:273.34px;font-size:8.4px;color:#000;width:46.40px;text-align:center;letter-spacing:0.359px;">1.7</div>
<div class="t sk" id="i192" style="left:341.90px;top:273.34px;font-size:8.4px;color:#000;width:45.70px;text-align:center;letter-spacing:0.359px;">2.4</div>
<div class="t sk" id="i193" style="left:387.60px;top:273.34px;font-size:8.4px;color:#000;width:45.90px;text-align:center;letter-spacing:0.430px;">16</div>
<div class="t sk" id="i194" style="left:428.80px;top:273.34px;font-size:8.4px;color:#000;width:56.60px;text-align:center;letter-spacing:0.432px;">400</div>
<div class="t sk" id="i195" style="left:490.10px;top:273.34px;font-size:8.4px;color:#000;width:43.30px;text-align:center;letter-spacing:0.430px;">60</div>
<div class="t sk" id="i196" style="left:533.40px;top:273.34px;font-size:8.4px;color:#000;width:64.40px;text-align:center;letter-spacing:0.422px;">5</div>
<div class="t sk" id="i197" style="left:597.80px;top:273.34px;font-size:8.4px;color:#000;width:42.60px;text-align:center;letter-spacing:0.430px;">30</div>
<div class="t sk" id="i198" style="left:641.90px;top:273.34px;font-size:8.4px;color:#000;width:43.00px;text-align:center;letter-spacing:0.430px;">1000</div>
<div class="t sk" id="i199" style="left:683.40px;top:273.34px;font-size:8.4px;color:#000;width:42.50px;text-align:center;letter-spacing:0.430px;">15</div>
<div class="t sk" id="i200" style="left:724.40px;top:273.34px;font-size:8.4px;color:#000;width:42.90px;text-align:center;letter-spacing:0.430px;">10</div>
<div class="t sk" id="i201" style="left:766.80px;top:273.34px;font-size:8.4px;color:#000;width:39.20px;text-align:center;letter-spacing:0.432px;">120</div>
<div class="t sk" id="i202" style="left:116.00px;top:288.07px;font-size:8.4px;color:#000;letter-spacing:0.100px;"><span class="ge">≥</span>70</div>
<div class="t sk" id="i203" style="left:158.00px;top:288.07px;font-size:8.4px;color:#000;width:45.90px;text-align:center;letter-spacing:0.388px;">2.100</div>
<div class="t sk" id="i204" style="left:203.90px;top:288.07px;font-size:8.4px;color:#000;width:46.00px;text-align:center;letter-spacing:0.359px;">1.2</div>
<div class="t sk" id="i205" style="left:249.90px;top:288.07px;font-size:8.4px;color:#000;width:45.60px;text-align:center;letter-spacing:0.359px;">1.3</div>
<div class="t sk" id="i206" style="left:295.50px;top:288.07px;font-size:8.4px;color:#000;width:46.40px;text-align:center;letter-spacing:0.359px;">1.9</div>
<div class="t sk" id="i207" style="left:341.90px;top:288.07px;font-size:8.4px;color:#000;width:45.70px;text-align:center;letter-spacing:0.422px;">3</div>
<div class="t sk" id="i208" style="left:387.60px;top:288.07px;font-size:8.4px;color:#000;width:45.90px;text-align:center;letter-spacing:0.430px;">15</div>
<div class="t sk" id="i209" style="left:428.80px;top:288.07px;font-size:8.4px;color:#000;width:56.60px;text-align:center;letter-spacing:0.432px;">400</div>
<div class="t sk" id="i210" style="left:490.10px;top:288.07px;font-size:8.4px;color:#000;width:43.30px;text-align:center;letter-spacing:0.430px;">60</div>
<div class="t sk" id="i211" style="left:533.40px;top:288.07px;font-size:8.4px;color:#000;width:64.40px;text-align:center;letter-spacing:0.422px;">5</div>
<div class="t sk" id="i212" style="left:597.80px;top:288.07px;font-size:8.4px;color:#000;width:42.60px;text-align:center;letter-spacing:0.430px;">30</div>
<div class="t sk" id="i213" style="left:641.90px;top:288.07px;font-size:8.4px;color:#000;width:43.00px;text-align:center;letter-spacing:0.432px;">900</div>
<div class="t sk" id="i214" style="left:683.40px;top:288.07px;font-size:8.4px;color:#000;width:42.50px;text-align:center;letter-spacing:0.430px;">20</div>
<div class="t sk" id="i215" style="left:724.40px;top:288.07px;font-size:8.4px;color:#000;width:42.90px;text-align:center;letter-spacing:0.430px;">12</div>
<div class="t sk" id="i216" style="left:766.80px;top:288.07px;font-size:8.4px;color:#000;width:39.20px;text-align:center;letter-spacing:0.432px;">120</div>
<div class="t " id="i217" style="left:57.50px;top:307.45px;font-size:8.4px;color:#000;font-weight:bold;letter-spacing:0.857px;">Mujeres</div>
<div class="t sk" id="i218" style="left:116.00px;top:307.45px;font-size:8.4px;color:#000;letter-spacing:0.366px;">10-13</div>
<div class="t sk" id="i219" style="left:158.00px;top:307.45px;font-size:8.4px;color:#000;width:45.90px;text-align:center;letter-spacing:0.388px;">2.100</div>
<div class="t sk" id="i220" style="left:203.90px;top:307.45px;font-size:8.4px;color:#000;width:46.00px;text-align:center;letter-spacing:0.359px;">0.9</div>
<div class="t sk" id="i221" style="left:249.90px;top:307.45px;font-size:8.4px;color:#000;width:45.60px;text-align:center;letter-spacing:0.359px;">1.3</div>
<div class="t sk" id="i222" style="left:295.50px;top:307.45px;font-size:8.4px;color:#000;width:46.40px;text-align:center;letter-spacing:0.359px;">1.1</div>
<div class="t sk" id="i223" style="left:341.90px;top:307.45px;font-size:8.4px;color:#000;width:45.70px;text-align:center;letter-spacing:0.359px;">2.1</div>
<div class="t sk" id="i224" style="left:387.60px;top:307.45px;font-size:8.4px;color:#000;width:45.90px;text-align:center;letter-spacing:0.430px;">14</div>
<div class="t sk" id="i225" style="left:428.80px;top:307.45px;font-size:8.4px;color:#000;width:56.60px;text-align:center;letter-spacing:0.432px;">300</div>
<div class="t sk" id="i226" style="left:490.10px;top:307.45px;font-size:8.4px;color:#000;width:43.30px;text-align:center;letter-spacing:0.430px;">60</div>
<div class="t sk" id="i227" style="left:533.40px;top:307.45px;font-size:8.4px;color:#000;width:64.40px;text-align:center;letter-spacing:0.422px;">4</div>
<div class="t sk" id="i228" style="left:597.80px;top:307.45px;font-size:8.4px;color:#000;width:42.60px;text-align:center;letter-spacing:0.430px;">20</div>
<div class="t sk" id="i229" style="left:641.90px;top:307.45px;font-size:8.4px;color:#000;width:43.00px;text-align:center;letter-spacing:0.432px;">800</div>
<div class="t sk" id="i230" style="left:683.40px;top:307.45px;font-size:8.4px;color:#000;width:42.50px;text-align:center;letter-spacing:0.430px;">15</div>
<div class="t sk" id="i231" style="left:724.40px;top:307.45px;font-size:8.4px;color:#000;width:42.90px;text-align:center;letter-spacing:0.422px;">8</div>
<div class="t sk" id="i232" style="left:766.80px;top:307.45px;font-size:8.4px;color:#000;width:39.20px;text-align:center;letter-spacing:0.430px;">60</div>
<div class="t sk" id="i233" style="left:116.00px;top:322.18px;font-size:8.4px;color:#000;letter-spacing:0.366px;">14-19</div>
<div class="t sk" id="i234" style="left:158.00px;top:322.18px;font-size:8.4px;color:#000;width:45.90px;text-align:center;letter-spacing:0.388px;">2.250</div>
<div class="t sk" id="i235" style="left:203.90px;top:322.18px;font-size:8.4px;color:#000;width:46.00px;text-align:center;letter-spacing:0.422px;">1</div>
<div class="t sk" id="i236" style="left:249.90px;top:322.18px;font-size:8.4px;color:#000;width:45.60px;text-align:center;letter-spacing:0.359px;">1.4</div>
<div class="t sk" id="i237" style="left:295.50px;top:322.18px;font-size:8.4px;color:#000;width:46.40px;text-align:center;letter-spacing:0.359px;">1.3</div>
<div class="t sk" id="i238" style="left:341.90px;top:322.18px;font-size:8.4px;color:#000;width:45.70px;text-align:center;letter-spacing:0.359px;">2.4</div>
<div class="t sk" id="i239" style="left:387.60px;top:322.18px;font-size:8.4px;color:#000;width:45.90px;text-align:center;letter-spacing:0.430px;">15</div>
<div class="t sk" id="i240" style="left:428.80px;top:322.18px;font-size:8.4px;color:#000;width:56.60px;text-align:center;letter-spacing:0.432px;">400</div>
<div class="t sk" id="i241" style="left:490.10px;top:322.18px;font-size:8.4px;color:#000;width:43.30px;text-align:center;letter-spacing:0.430px;">60</div>
<div class="t sk" id="i242" style="left:533.40px;top:322.18px;font-size:8.4px;color:#000;width:64.40px;text-align:center;letter-spacing:0.422px;">5</div>
<div class="t sk" id="i243" style="left:597.80px;top:322.18px;font-size:8.4px;color:#000;width:42.60px;text-align:center;letter-spacing:0.430px;">25</div>
<div class="t sk" id="i244" style="left:641.90px;top:322.18px;font-size:8.4px;color:#000;width:43.00px;text-align:center;letter-spacing:0.432px;">800</div>
<div class="t sk" id="i245" style="left:683.40px;top:322.18px;font-size:8.4px;color:#000;width:42.50px;text-align:center;letter-spacing:0.430px;">15</div>
<div class="t sk" id="i246" style="left:724.40px;top:322.18px;font-size:8.4px;color:#000;width:42.90px;text-align:center;letter-spacing:0.422px;">8</div>
<div class="t sk" id="i247" style="left:766.80px;top:322.18px;font-size:8.4px;color:#000;width:39.20px;text-align:center;letter-spacing:0.430px;">75</div>
<div class="t sk" id="i248" style="left:116.00px;top:336.91px;font-size:8.4px;color:#000;letter-spacing:0.366px;">20-39</div>
<div class="t sk" id="i249" style="left:158.00px;top:336.91px;font-size:8.4px;color:#000;width:45.90px;text-align:center;letter-spacing:0.388px;">2.200</div>
<div class="t sk" id="i250" style="left:203.90px;top:336.91px;font-size:8.4px;color:#000;width:46.00px;text-align:center;letter-spacing:0.359px;">1.1</div>
<div class="t sk" id="i251" style="left:249.90px;top:336.91px;font-size:8.4px;color:#000;width:45.60px;text-align:center;letter-spacing:0.359px;">1.2</div>
<div class="t sk" id="i252" style="left:295.50px;top:336.91px;font-size:8.4px;color:#000;width:46.40px;text-align:center;letter-spacing:0.359px;">1.3</div>
<div class="t sk" id="i253" style="left:341.90px;top:336.91px;font-size:8.4px;color:#000;width:45.70px;text-align:center;letter-spacing:0.359px;">2.4</div>
<div class="t sk" id="i254" style="left:387.60px;top:336.91px;font-size:8.4px;color:#000;width:45.90px;text-align:center;letter-spacing:0.430px;">15</div>
<div class="t sk" id="i255" style="left:428.80px;top:336.91px;font-size:8.4px;color:#000;width:56.60px;text-align:center;letter-spacing:0.432px;">400</div>
<div class="t sk" id="i256" style="left:490.10px;top:336.91px;font-size:8.4px;color:#000;width:43.30px;text-align:center;letter-spacing:0.430px;">60</div>
<div class="t sk" id="i257" style="left:533.40px;top:336.91px;font-size:8.4px;color:#000;width:64.40px;text-align:center;letter-spacing:0.422px;">5</div>
<div class="t sk" id="i258" style="left:597.80px;top:336.91px;font-size:8.4px;color:#000;width:42.60px;text-align:center;letter-spacing:0.430px;">30</div>
<div class="t sk" id="i259" style="left:641.90px;top:336.91px;font-size:8.4px;color:#000;width:43.00px;text-align:center;letter-spacing:0.432px;">800</div>
<div class="t sk" id="i260" style="left:683.40px;top:336.91px;font-size:8.4px;color:#000;width:42.50px;text-align:center;letter-spacing:0.430px;">15</div>
<div class="t sk" id="i261" style="left:724.40px;top:336.91px;font-size:8.4px;color:#000;width:42.90px;text-align:center;letter-spacing:0.422px;">8</div>
<div class="t sk" id="i262" style="left:766.80px;top:336.91px;font-size:8.4px;color:#000;width:39.20px;text-align:center;letter-spacing:0.430px;">90</div>
<div class="t sk" id="i263" style="left:116.00px;top:351.64px;font-size:8.4px;color:#000;letter-spacing:0.366px;">40-49</div>
<div class="t sk" id="i264" style="left:158.00px;top:351.64px;font-size:8.4px;color:#000;width:45.90px;text-align:center;letter-spacing:0.388px;">2.100</div>
<div class="t sk" id="i265" style="left:203.90px;top:351.64px;font-size:8.4px;color:#000;width:46.00px;text-align:center;letter-spacing:0.359px;">1.1</div>
<div class="t sk" id="i266" style="left:249.90px;top:351.64px;font-size:8.4px;color:#000;width:45.60px;text-align:center;letter-spacing:0.359px;">1.3</div>
<div class="t sk" id="i267" style="left:295.50px;top:351.64px;font-size:8.4px;color:#000;width:46.40px;text-align:center;letter-spacing:0.359px;">1.3</div>
<div class="t sk" id="i268" style="left:341.90px;top:351.64px;font-size:8.4px;color:#000;width:45.70px;text-align:center;letter-spacing:0.359px;">2.4</div>
<div class="t sk" id="i269" style="left:387.60px;top:351.64px;font-size:8.4px;color:#000;width:45.90px;text-align:center;letter-spacing:0.430px;">15</div>
<div class="t sk" id="i270" style="left:428.80px;top:351.64px;font-size:8.4px;color:#000;width:56.60px;text-align:center;letter-spacing:0.432px;">400</div>
<div class="t sk" id="i271" style="left:490.10px;top:351.64px;font-size:8.4px;color:#000;width:43.30px;text-align:center;letter-spacing:0.430px;">60</div>
<div class="t sk" id="i272" style="left:533.40px;top:351.64px;font-size:8.4px;color:#000;width:64.40px;text-align:center;letter-spacing:0.422px;">5</div>
<div class="t sk" id="i273" style="left:597.80px;top:351.64px;font-size:8.4px;color:#000;width:42.60px;text-align:center;letter-spacing:0.430px;">30</div>
<div class="t sk" id="i274" style="left:641.90px;top:351.64px;font-size:8.4px;color:#000;width:43.00px;text-align:center;letter-spacing:0.432px;">800</div>
<div class="t sk" id="i275" style="left:683.40px;top:351.64px;font-size:8.4px;color:#000;width:42.50px;text-align:center;letter-spacing:0.430px;">15</div>
<div class="t sk" id="i276" style="left:724.40px;top:351.64px;font-size:8.4px;color:#000;width:42.90px;text-align:center;letter-spacing:0.422px;">8</div>
<div class="t sk" id="i277" style="left:766.80px;top:351.64px;font-size:8.4px;color:#000;width:39.20px;text-align:center;letter-spacing:0.430px;">90</div>
<div class="t sk" id="i278" style="left:116.00px;top:366.37px;font-size:8.4px;color:#000;letter-spacing:0.366px;">50-59</div>
<div class="t sk" id="i279" style="left:158.00px;top:366.37px;font-size:8.4px;color:#000;width:45.90px;text-align:center;letter-spacing:0.388px;">2.000</div>
<div class="t sk" id="i280" style="left:203.90px;top:366.37px;font-size:8.4px;color:#000;width:46.00px;text-align:center;letter-spacing:0.359px;">1.1</div>
<div class="t sk" id="i281" style="left:249.90px;top:366.37px;font-size:8.4px;color:#000;width:45.60px;text-align:center;letter-spacing:0.359px;">1.2</div>
<div class="t sk" id="i282" style="left:295.50px;top:366.37px;font-size:8.4px;color:#000;width:46.40px;text-align:center;letter-spacing:0.359px;">1.5</div>
<div class="t sk" id="i283" style="left:341.90px;top:366.37px;font-size:8.4px;color:#000;width:45.70px;text-align:center;letter-spacing:0.359px;">2.4</div>
<div class="t sk" id="i284" style="left:387.60px;top:366.37px;font-size:8.4px;color:#000;width:45.90px;text-align:center;letter-spacing:0.430px;">15</div>
<div class="t sk" id="i285" style="left:428.80px;top:366.37px;font-size:8.4px;color:#000;width:56.60px;text-align:center;letter-spacing:0.432px;">400</div>
<div class="t sk" id="i286" style="left:490.10px;top:366.37px;font-size:8.4px;color:#000;width:43.30px;text-align:center;letter-spacing:0.430px;">60</div>
<div class="t sk" id="i287" style="left:533.40px;top:366.37px;font-size:8.4px;color:#000;width:64.40px;text-align:center;letter-spacing:0.422px;">5</div>
<div class="t sk" id="i288" style="left:597.80px;top:366.37px;font-size:8.4px;color:#000;width:42.60px;text-align:center;letter-spacing:0.430px;">30</div>
<div class="t sk" id="i289" style="left:641.90px;top:366.37px;font-size:8.4px;color:#000;width:43.00px;text-align:center;letter-spacing:0.432px;">800</div>
<div class="t sk" id="i290" style="left:683.40px;top:366.37px;font-size:8.4px;color:#000;width:42.50px;text-align:center;letter-spacing:0.430px;">15</div>
<div class="t sk" id="i291" style="left:724.40px;top:366.37px;font-size:8.4px;color:#000;width:42.90px;text-align:center;letter-spacing:0.422px;">8</div>
<div class="t sk" id="i292" style="left:766.80px;top:366.37px;font-size:8.4px;color:#000;width:39.20px;text-align:center;letter-spacing:0.430px;">90</div>
<div class="t sk" id="i293" style="left:116.00px;top:381.10px;font-size:8.4px;color:#000;letter-spacing:0.366px;">60-69</div>
<div class="t sk" id="i294" style="left:158.00px;top:381.10px;font-size:8.4px;color:#000;width:45.90px;text-align:center;letter-spacing:0.388px;">1.850</div>
<div class="t sk" id="i295" style="left:203.90px;top:381.10px;font-size:8.4px;color:#000;width:46.00px;text-align:center;letter-spacing:0.359px;">1.1</div>
<div class="t sk" id="i296" style="left:249.90px;top:381.10px;font-size:8.4px;color:#000;width:45.60px;text-align:center;letter-spacing:0.359px;">1.2</div>
<div class="t sk" id="i297" style="left:295.50px;top:381.10px;font-size:8.4px;color:#000;width:46.40px;text-align:center;letter-spacing:0.359px;">1.5</div>
<div class="t sk" id="i298" style="left:341.90px;top:381.10px;font-size:8.4px;color:#000;width:45.70px;text-align:center;letter-spacing:0.359px;">2.4</div>
<div class="t sk" id="i299" style="left:387.60px;top:381.10px;font-size:8.4px;color:#000;width:45.90px;text-align:center;letter-spacing:0.430px;">15</div>
<div class="t sk" id="i300" style="left:428.80px;top:381.10px;font-size:8.4px;color:#000;width:56.60px;text-align:center;letter-spacing:0.432px;">400</div>
<div class="t sk" id="i301" style="left:490.10px;top:381.10px;font-size:8.4px;color:#000;width:43.30px;text-align:center;letter-spacing:0.430px;">70</div>
<div class="t sk" id="i302" style="left:533.40px;top:381.10px;font-size:8.4px;color:#000;width:64.40px;text-align:center;letter-spacing:0.422px;">5</div>
<div class="t sk" id="i303" style="left:597.80px;top:381.10px;font-size:8.4px;color:#000;width:42.60px;text-align:center;letter-spacing:0.430px;">30</div>
<div class="t sk" id="i304" style="left:641.90px;top:381.10px;font-size:8.4px;color:#000;width:43.00px;text-align:center;letter-spacing:0.432px;">800</div>
<div class="t sk" id="i305" style="left:683.40px;top:381.10px;font-size:8.4px;color:#000;width:42.50px;text-align:center;letter-spacing:0.430px;">15</div>
<div class="t sk" id="i306" style="left:724.40px;top:381.10px;font-size:8.4px;color:#000;width:42.90px;text-align:center;letter-spacing:0.422px;">8</div>
<div class="t sk" id="i307" style="left:766.80px;top:381.10px;font-size:8.4px;color:#000;width:39.20px;text-align:center;letter-spacing:0.430px;">90</div>
<div class="t sk" id="i308" style="left:116.00px;top:395.83px;font-size:8.4px;color:#000;letter-spacing:0.100px;"><span class="ge">≥</span>70</div>
<div class="t sk" id="i309" style="left:158.00px;top:395.83px;font-size:8.4px;color:#000;width:45.90px;text-align:center;letter-spacing:0.388px;">1.700</div>
<div class="t sk" id="i310" style="left:203.90px;top:395.83px;font-size:8.4px;color:#000;width:46.00px;text-align:center;letter-spacing:0.359px;">1.1</div>
<div class="t sk" id="i311" style="left:249.90px;top:395.83px;font-size:8.4px;color:#000;width:45.60px;text-align:center;letter-spacing:0.359px;">1.3</div>
<div class="t sk" id="i312" style="left:295.50px;top:395.83px;font-size:8.4px;color:#000;width:46.40px;text-align:center;letter-spacing:0.359px;">1.7</div>
<div class="t sk" id="i313" style="left:341.90px;top:395.83px;font-size:8.4px;color:#000;width:45.70px;text-align:center;letter-spacing:0.422px;">3</div>
<div class="t sk" id="i314" style="left:387.60px;top:395.83px;font-size:8.4px;color:#000;width:45.90px;text-align:center;letter-spacing:0.430px;">15</div>
<div class="t sk" id="i315" style="left:428.80px;top:395.83px;font-size:8.4px;color:#000;width:56.60px;text-align:center;letter-spacing:0.432px;">400</div>
<div class="t sk" id="i316" style="left:490.10px;top:395.83px;font-size:8.4px;color:#000;width:43.30px;text-align:center;letter-spacing:0.430px;">70</div>
<div class="t sk" id="i317" style="left:533.40px;top:395.83px;font-size:8.4px;color:#000;width:64.40px;text-align:center;letter-spacing:0.422px;">5</div>
<div class="t sk" id="i318" style="left:597.80px;top:395.83px;font-size:8.4px;color:#000;width:42.60px;text-align:center;letter-spacing:0.430px;">30</div>
<div class="t sk" id="i319" style="left:641.90px;top:395.83px;font-size:8.4px;color:#000;width:43.00px;text-align:center;letter-spacing:0.432px;">700</div>
<div class="t sk" id="i320" style="left:683.40px;top:395.83px;font-size:8.4px;color:#000;width:42.50px;text-align:center;letter-spacing:0.430px;">20</div>
<div class="t sk" id="i321" style="left:724.40px;top:395.83px;font-size:8.4px;color:#000;width:42.90px;text-align:center;letter-spacing:0.430px;">10</div>
<div class="t sk" id="i322" style="left:766.80px;top:395.83px;font-size:8.4px;color:#000;width:39.20px;text-align:center;letter-spacing:0.430px;">90</div>
<div class="t " id="i323" style="left:57.50px;top:415.21px;font-size:8.4px;color:#000;font-weight:bold;letter-spacing:0.811px;">Embarazo</div>
<div class="t sk" id="i324" style="left:158.00px;top:415.21px;font-size:8.4px;color:#000;width:45.90px;text-align:center;letter-spacing:0.388px;">2.500</div>
<div class="t sk" id="i325" style="left:203.90px;top:415.21px;font-size:8.4px;color:#000;width:46.00px;text-align:center;letter-spacing:0.359px;">1.3</div>
<div class="t sk" id="i326" style="left:249.90px;top:415.21px;font-size:8.4px;color:#000;width:45.60px;text-align:center;letter-spacing:0.359px;">1.5</div>
<div class="t sk" id="i327" style="left:295.50px;top:415.21px;font-size:8.4px;color:#000;width:46.40px;text-align:center;letter-spacing:0.359px;">1.9</div>
<div class="t sk" id="i328" style="left:341.90px;top:415.21px;font-size:8.4px;color:#000;width:45.70px;text-align:center;letter-spacing:0.359px;">2.6</div>
<div class="t sk" id="i329" style="left:387.60px;top:415.21px;font-size:8.4px;color:#000;width:45.90px;text-align:center;letter-spacing:0.430px;">18</div>
<div class="t sk" id="i330" style="left:430.80px;top:415.21px;font-size:8.4px;color:#000;width:56.60px;text-align:center;letter-spacing:0.512px;">600*</div>
<div class="t sk" id="i331" style="left:490.10px;top:415.21px;font-size:8.4px;color:#000;width:43.30px;text-align:center;letter-spacing:0.430px;">80</div>
<div class="t sk" id="i332" style="left:533.40px;top:415.21px;font-size:8.4px;color:#000;width:64.40px;text-align:center;letter-spacing:0.422px;">6</div>
<div class="t sk" id="i333" style="left:597.80px;top:415.21px;font-size:8.4px;color:#000;width:42.60px;text-align:center;letter-spacing:0.430px;">30</div>
<div class="t sk" id="i334" style="left:641.90px;top:415.21px;font-size:8.4px;color:#000;width:43.00px;text-align:center;letter-spacing:0.432px;">800</div>
<div class="t sk" id="i335" style="left:683.40px;top:415.21px;font-size:8.4px;color:#000;width:42.50px;text-align:center;letter-spacing:0.430px;">15</div>
<div class="t sk" id="i336" style="left:724.40px;top:415.21px;font-size:8.4px;color:#000;width:42.90px;text-align:center;letter-spacing:0.430px;">10</div>
<div class="t sk" id="i337" style="left:766.80px;top:415.21px;font-size:8.4px;color:#000;width:39.20px;text-align:center;letter-spacing:0.430px;">90</div>
<div class="t " id="i338" style="left:57.50px;top:429.94px;font-size:8.4px;color:#555;letter-spacing:0.739px;">(2<sup>a</sup> mitad)</div>
<div class="t " id="i339" style="left:57.50px;top:449.32px;font-size:8.4px;color:#000;font-weight:bold;letter-spacing:0.714px;">Lactancia</div>
<div class="t sk" id="i340" style="left:158.00px;top:449.32px;font-size:8.4px;color:#000;width:45.90px;text-align:center;letter-spacing:0.388px;">2.700</div>
<div class="t sk" id="i341" style="left:203.90px;top:449.32px;font-size:8.4px;color:#000;width:46.00px;text-align:center;letter-spacing:0.359px;">1.5</div>
<div class="t sk" id="i342" style="left:249.90px;top:449.32px;font-size:8.4px;color:#000;width:45.60px;text-align:center;letter-spacing:0.359px;">1.6</div>
<div class="t sk" id="i343" style="left:295.50px;top:449.32px;font-size:8.4px;color:#000;width:46.40px;text-align:center;letter-spacing:0.422px;">2</div>
<div class="t sk" id="i344" style="left:341.90px;top:449.32px;font-size:8.4px;color:#000;width:45.70px;text-align:center;letter-spacing:0.359px;">2.8</div>
<div class="t sk" id="i345" style="left:387.60px;top:449.32px;font-size:8.4px;color:#000;width:45.90px;text-align:center;letter-spacing:0.430px;">19</div>
<div class="t sk" id="i346" style="left:428.80px;top:449.32px;font-size:8.4px;color:#000;width:56.60px;text-align:center;letter-spacing:0.432px;">500</div>
<div class="t sk" id="i347" style="left:490.10px;top:449.32px;font-size:8.4px;color:#000;width:43.30px;text-align:center;letter-spacing:0.430px;">90</div>
<div class="t sk" id="i348" style="left:533.40px;top:449.32px;font-size:8.4px;color:#000;width:64.40px;text-align:center;letter-spacing:0.422px;">7</div>
<div class="t sk" id="i349" style="left:597.80px;top:449.32px;font-size:8.4px;color:#000;width:42.60px;text-align:center;letter-spacing:0.430px;">35</div>
<div class="t sk" id="i350" style="left:641.90px;top:449.32px;font-size:8.4px;color:#000;width:43.00px;text-align:center;letter-spacing:0.430px;">1300</div>
<div class="t sk" id="i351" style="left:683.40px;top:449.32px;font-size:8.4px;color:#000;width:42.50px;text-align:center;letter-spacing:0.430px;">15</div>
<div class="t sk" id="i352" style="left:724.40px;top:449.32px;font-size:8.4px;color:#000;width:42.90px;text-align:center;letter-spacing:0.430px;">12</div>
<div class="t sk" id="i353" style="left:766.80px;top:449.32px;font-size:8.4px;color:#000;width:39.20px;text-align:center;letter-spacing:0.430px;">90</div>
<div class="t " id="i354" style="left:58.40px;top:464.09px;font-size:8.4px;color:#222;letter-spacing:0.368px;"><sup>1</sup> En población sedentaria reducir un 10% y en población muy activa incrementar en un 20%.</div>
<div class="t " id="i355" style="left:58.40px;top:473.89px;font-size:8.4px;color:#222;letter-spacing:0.305px;"><sup>2</sup> Por intervenir en el metabolismo energético las ingestas recomendadas de vitaminas B<sub>1</sub>, B<sub>2</sub> y niacina deben incrementarse cuando la ingesta calórica sea elevada y se debe tomar</div>
<div class="t " id="i356" style="left:57.40px;top:483.69px;font-size:8.4px;color:#222;letter-spacing:0.442px;">como mínimo 0.4 mg/1000 kcal, 0.6 mg/1000 kcal y 6.6 mg/1000 kcal, respectivamente para tiamina, riboflavina y niacina.</div>
<div class="t " id="i357" style="left:58.40px;top:493.49px;font-size:8.4px;color:#222;letter-spacing:0.388px;"><sup>3</sup> Un equivalente de niacina = 1 mg de niacina = 60 mg de triptófano.</div>
<div class="t " id="i358" style="left:58.40px;top:503.29px;font-size:8.4px;color:#222;letter-spacing:0.353px;"><sup>4</sup> Por su intervención en prevención de malformaciones congénitas se aconseja que las mujeres en edad fértil tomen 400 <span class="mu">µ</span>g de ácido fólico sintético (alimentos</div>
<div class="t " id="i359" style="left:57.40px;top:513.09px;font-size:8.4px;color:#222;letter-spacing:0.397px;">fortificados/suplementos), además del aporte procedente de una dieta variada. * Desde el primer trimestre de embarazo. 1<span class="mu">µ</span>g de folatos de los alimentos = 0.6 <span class="mu">µ</span>g de ácido</div>
<div class="t " id="i360" style="left:57.40px;top:522.89px;font-size:8.4px;color:#222;letter-spacing:0.357px;">fólico procedente de alimentos fortificados osuplementos tomados con las comidas = 0.5 <span class="mu">µ</span>g de ácido fólico aportado por suplementos tomados con el estómago vacío.</div>
<div class="t " id="i361" style="left:58.40px;top:532.69px;font-size:8.4px;color:#222;letter-spacing:0.379px;"><sup>5</sup> Un equivalente de retinol = 1 <span class="mu">µ</span>g de retinol = 6 <span class="mu">µ</span>g de beta-carotenos. La equivalencia entre <span class="mu">µ</span>g y UI es la siguiente: 0.3 <span class="mu">µ</span>g de vitamina A = 1 UI.</div>
<div class="t " id="i362" style="left:58.40px;top:542.49px;font-size:8.4px;color:#222;letter-spacing:0.293px;"><sup>6</sup> Se expresa como colecalciferol. 1 <span class="mu">µ</span>g de colecalciferol = 40 UI de vitamina D. Las cantidades recomendadas se establecen para personas con escasa exposición al sol.</div>
<div class="t " id="i363" style="left:58.40px;top:552.29px;font-size:8.4px;color:#222;letter-spacing:0.365px;"><sup>7</sup> Expresada como alfa-tocoferol. 1 mg de alfa-tocoferol = 1,49 UI.</div>
</div>
</body></html>
